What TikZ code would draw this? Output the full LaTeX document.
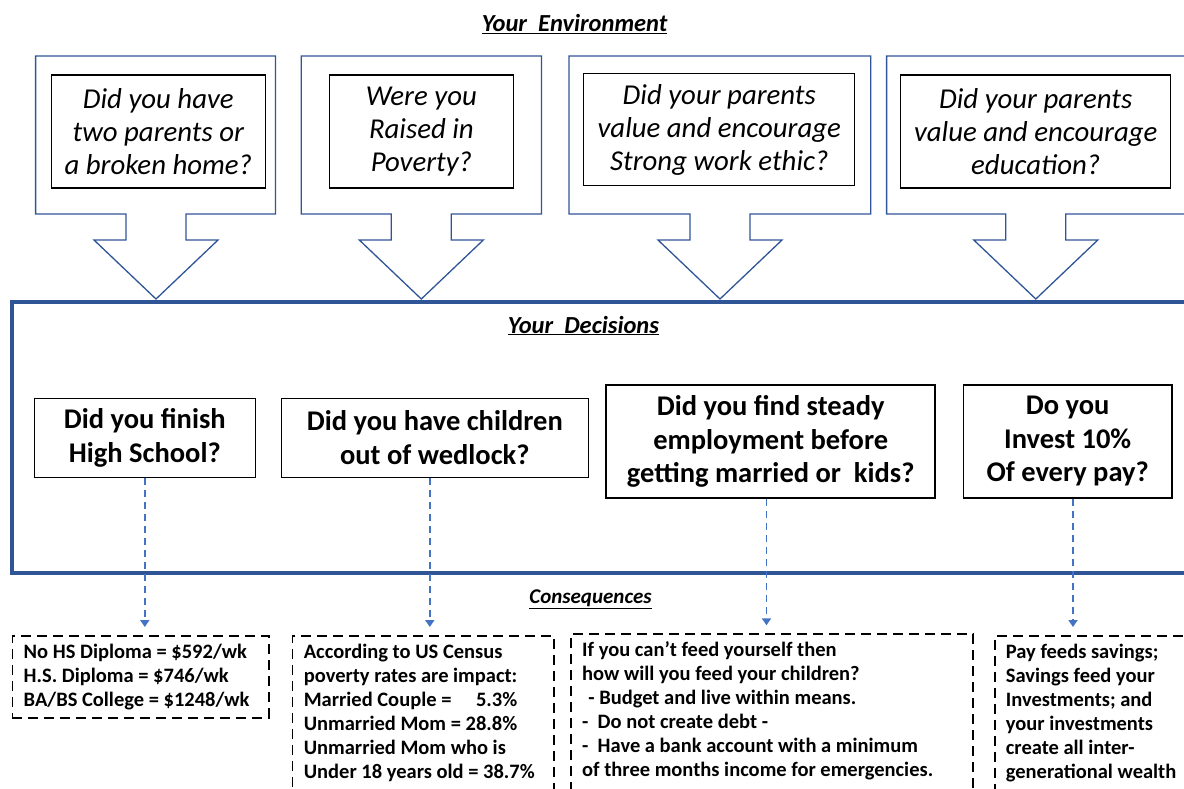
\documentclass[tikz,border=0pt]{standalone}
\usepackage{fontspec}
\setmainfont{Carlito}
\usetikzlibrary{arrows.meta,positioning}

\definecolor{calloutblue}{HTML}{2F5597}
\definecolor{linkblue}{HTML}{4472C4}

\tikzset{
	callout/.style={draw=calloutblue, line width=1.3pt, line join=miter},
	frame/.style={draw=calloutblue, line width=3.8pt},
	envbox/.style={draw, line width=1.2pt, align=center, inner sep=0pt, font=\fontsize{28.8}{33}\selectfont\itshape},
	decbox/.style={draw, line width=1.5pt, align=center, inner sep=0pt, font=\fontsize{28.5}{33.5}\selectfont\bfseries},
	consbox/.style={draw, line width=1.8pt, dash pattern=on 10pt off 6pt, anchor=north west, inner sep=0pt},
	constext/.style={anchor=north west, align=left, inner sep=0pt, font=\fontsize{20.5}{24}\selectfont\bfseries},
	heading/.style={anchor=base, font=\fontsize{24.5}{28}\selectfont\bfseries\itshape},
	link/.style={draw=linkblue, line width=1.8pt, dash pattern=on 7pt off 5pt, -{Triangle[width=9pt,length=7pt]}, shorten >=8pt}
}

\begin{document}
\begin{tikzpicture}[x=1pt, y=-1pt]
	\useasboundingbox (0,0) rectangle (1184,788);
	\clip (0,0) rectangle (1184,788);

	\node[heading] (envhead) at (574.6,31.7) {\underline{Your\ \ Environment}};
	\foreach \l/\r/\c in {35.6/275.5/156, 301.2/541.5/421.3, 569/870.8/720, 886.6/1200/1035.8}
		\draw[callout] (\l,56) -- (\r,56) -- (\r,214) -- (\c+30,214) -- (\c+30,240) -- (\c+62,240)
			-- (\c,299) -- (\c-62,240) -- (\c-30,240) -- (\c-30,214) -- (\l,214) -- cycle;

	\node[envbox, minimum width=214pt, minimum height=113pt] (env1) at (158.3,131.5) {Did you have\\two parents or\\a broken home?};
	\node[envbox, minimum width=184pt, minimum height=113pt] (env2) at (421.4,131.5) {Were you\\Raised in\\Poverty?};
	\node[envbox, minimum width=271pt, minimum height=112pt] (env3) at (719.3,129.7) {Did your parents\\value and encourage\\Strong work ethic?};
	\node[envbox, minimum width=270pt, minimum height=113pt] (env4) at (1035.7,131.4) {Did your parents\\value and encourage\\education?};

	\draw[frame] (12,301.7) rectangle (1200,573.3);
	\node[heading] (dechead) at (583.5,333) {\underline{Your\ \ Decisions}};

	\node[decbox, minimum width=221pt, minimum height=79pt] (dec1) at (144.8,437.8) {Did you finish\\High School?};
	\node[decbox, minimum width=307pt, minimum height=79pt] (dec2) at (434.8,437.8) {Did you have children\\out of wedlock?};
	\node[decbox, minimum width=329pt, minimum height=112.7pt] (dec3) at (770.7,441.4) {Did you find steady\\employment before\\getting married or\ \ kids?};
	\node[decbox, minimum width=208.7pt, minimum height=112.7pt] (dec4) at (1067.7,441.4) {Do you\\Invest 10\%\\Of every pay?};

	\node[heading, font=\fontsize{21}{24}\selectfont\bfseries\itshape] (conhead) at (590.5,603.3) {\underline{Consequences}};

	\node[consbox, minimum width=256.4pt, minimum height=81.7pt] (con1) at (11.5,635) {};
	\node[consbox, minimum width=261.4pt, minimum height=200pt] (con2) at (291.6,635) {};
	\node[consbox, minimum width=401.9pt, minimum height=200pt] (con3) at (570,633.3) {};
	\node[consbox, minimum width=250pt, minimum height=200pt] (con4) at (993.7,635) {};

	\node[constext] (con1txt) at ([shift={(12pt,-6.5pt)}]con1.north west)
		{\strut No HS Diploma = \$592/wk\\H.S. Diploma = \$746/wk\\BA/BS College = \$1248/wk};
	\node[constext] (con2txt) at ([shift={(12pt,-6.5pt)}]con2.north west)
		{\strut According to US Census\\poverty rates are impact:\\Married Couple =\hspace{1.2em}5.3\%\\Unmarried Mom = 28.8\%\\Unmarried Mom who is\\Under 18 years old = 38.7\%};
	\node[constext] (con3txt) at ([shift={(12pt,-6.5pt)}]con3.north west)
		{\strut If you can’t feed yourself then\\how will you feed your children?\\\hspace{0.3em}- Budget and live within means.\\-\ \ Do not create debt -\\-\ \ Have a bank account\ with a minimum\\of three months income for emergencies.};
	\node[constext] (con4txt) at ([shift={(12pt,-6.5pt)}]con4.north west)
		{\strut Pay feeds savings;\\Savings feed your\\Investments; and\\your investments\\create all inter-\\generational wealth};

	\coordinate (l1) at (dec1.south);
	\coordinate (l2) at ([xshift=-5pt]dec2.south);
	\coordinate (l3) at ([xshift=-4.2pt]dec3.south);
	\coordinate (l4) at ([xshift=5.3pt]dec4.south);
	\draw[link] (l1) -- (l1 |- con1.north);
	\draw[link] (l2) -- (l2 |- con2.north);
	\draw[link] (l3) -- (l3 |- con3.north);
	\draw[link] (l4) -- (l4 |- con4.north);
\end{tikzpicture}
\end{document}
